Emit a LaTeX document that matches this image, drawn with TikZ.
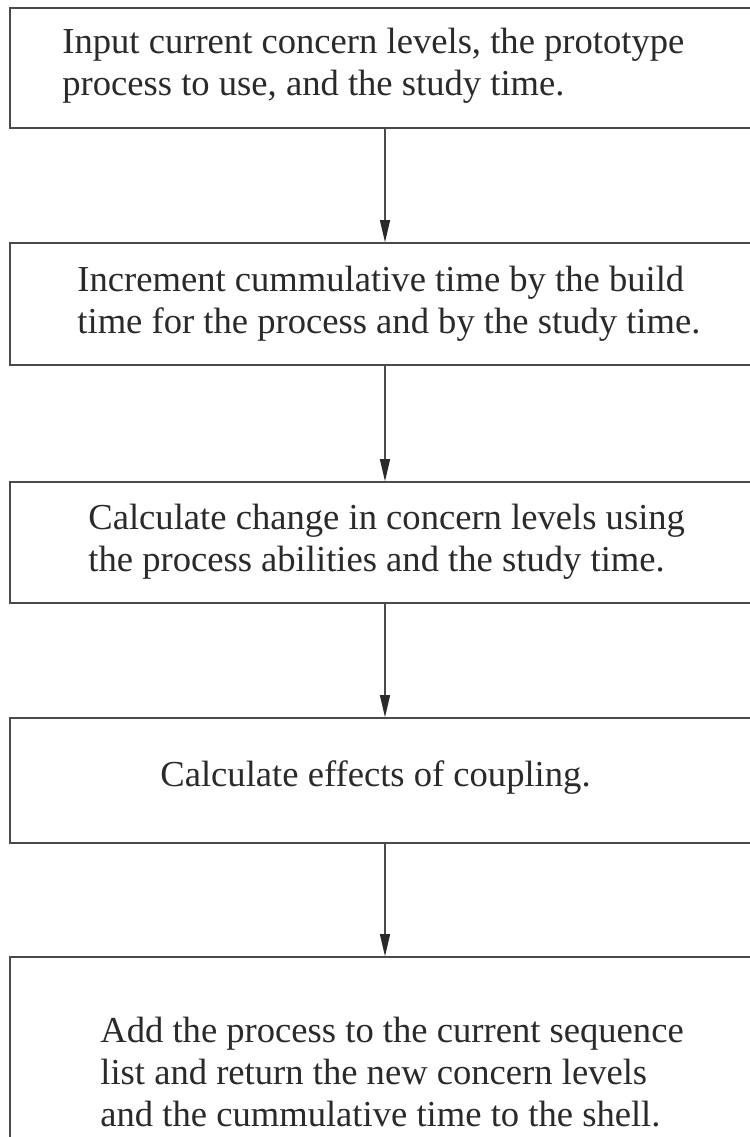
\documentclass[tikz,border=0pt]{standalone}
\usepackage{fontspec}
\setmainfont{Liberation Serif}
\usetikzlibrary{arrows.meta}
\definecolor{ink}{HTML}{2A2A2A}
\definecolor{rule}{HTML}{4A4A4A}
\tikzset{
  stepbox/.style={draw=rule, line width=0.8pt, minimum width=375pt, inner sep=0pt},
  steptext/.style={anchor=west, align=left, text=ink, inner sep=0pt,
    font=\fontsize{18.3}{21}\selectfont},
  flow/.style={draw=rule, line width=0.6pt,
    -{Triangle[width=5pt,length=11pt,color=ink,fill=ink]}}
}
\begin{document}
\begin{tikzpicture}[x=0.5pt, y=-0.5pt]
  \useasboundingbox (0,0) rectangle (750,1137);
  \clip (0,0) rectangle (750,1137);
  % process boxes (open on the right edge of the page)
  \node[stepbox, minimum height=60pt]  (b1) at (385,68)   {};
  \node[stepbox, minimum height=61pt]  (b2) at (385,304)  {};
  \node[stepbox, minimum height=60.5pt](b3) at (385,542.5){};
  \node[stepbox, minimum height=62.5pt](b4) at (385,780.5){};
  \node[stepbox, minimum height=110pt] (b5) at (385,1067) {};
  % step descriptions
  \node[steptext] (t1) at (62,66)   {Input current concern levels, the prototype\\process to use, and the study time.};
  \node[steptext] (t2) at (77,304)  {Increment cummulative time by the build\\time for the process and by the study time.};
  \node[steptext] (t3) at (88,542)  {Calculate change in concern levels using\\the process abilities and the study time.};
  \node[steptext] (t4) at (160,778) {Calculate effects of coupling.};
  \node[steptext] (t5) at (100,1072){Add the process to the current sequence\\list and return the new concern levels\\and the cummulative time to the shell.};
  % flow between steps
  \draw[flow] (b1.south) -- (b2.north);
  \draw[flow] (b2.south) -- (b3.north);
  \draw[flow] (b3.south) -- (b4.north);
  \draw[flow] (b4.south) -- (b5.north);
\end{tikzpicture}
\end{document}
